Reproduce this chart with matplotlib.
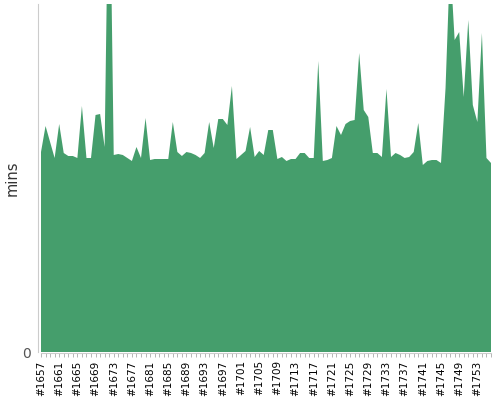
import matplotlib
matplotlib.use("Agg")
import matplotlib.pyplot as plt
import numpy as np

# build numbers
builds = list(range(1657, 1757))
# duration in minutes
mins = [20.0, 22.6, 21.0, 19.4, 22.8, 19.9, 19.6, 19.6, 19.4, 24.6,
        19.4, 19.4, 23.7, 23.8, 20.5, 53.0, 19.7, 19.8, 19.7, 19.4,
        19.1, 20.5, 19.4, 23.4, 19.2, 19.3, 19.3, 19.3, 19.3, 23.0,
        20.0, 19.6, 20.0, 19.9, 19.7, 19.4, 19.9, 23.0, 20.4, 23.3,
        23.3, 22.7, 26.6, 19.3, 19.7, 20.1, 22.5, 19.5, 20.1, 19.7,
        22.2, 22.2, 19.3, 19.5, 19.1, 19.3, 19.3, 19.9, 19.9, 19.4,
        19.4, 29.1, 19.1, 19.2, 19.4, 22.6, 21.7, 22.8, 23.1, 23.2,
        29.9, 24.2, 23.5, 19.9, 19.9, 19.5, 26.3, 19.5, 19.9, 19.7,
        19.4, 19.5, 20.0, 22.9, 18.7, 19.1, 19.2, 19.2, 18.9, 26.4,
        39.2, 31.2, 32.0, 25.5, 33.2, 24.7, 23.0, 31.9, 19.4, 18.9]
tick_labels = ["#%d" % b for b in builds]

fig = plt.figure(figsize=(5, 4), dpi=100)
ax = fig.add_axes([0.082, 0.12, 0.9, 0.87])

for s in ["top", "right"]:
    ax.spines[s].set_visible(False)
ax.spines["left"].set_position(("outward", 2))
ax.spines["bottom"].set_position(("outward", 1))
ax.spines["left"].set_color("#cccccc")
ax.spines["bottom"].set_color("#cccccc")

x = np.arange(len(builds))
ax.fill_between(x, mins, 0, color="#459e6c", linewidth=0)
ax.set_xlim(0, len(builds) - 1)
ax.set_ylim(0, 34.8)

ax.set_xticks(x)
ax.set_xticklabels([lbl if i % 4 == 0 else "" for i, lbl in enumerate(tick_labels)],
                   rotation=90, fontsize=7.5, color="black")
ax.tick_params(axis="x", length=3, width=0.6, color="#aaaaaa", pad=2)
ax.set_yticks([0])
ax.set_yticklabels(["0"], fontsize=10, color="#555555")
ax.tick_params(axis="y", length=0, pad=5)
ax.set_ylabel("mins", fontsize=10.5, color="#333333")
ax.yaxis.set_label_coords(-0.047, 0.5)

fig.savefig("out.png", dpi=100)
